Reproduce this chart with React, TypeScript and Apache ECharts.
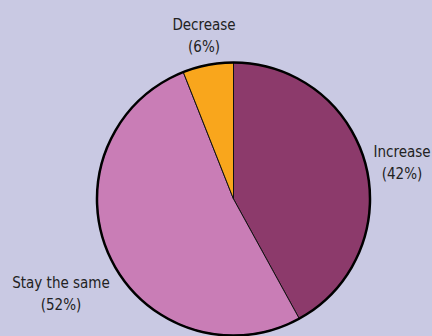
import React, { useEffect, useRef } from "react";
import * as echarts from "echarts";

// Share of respondents expecting each outcome (percent)
const categories = ["Increase", "Stay the same", "Decrease"];
const shares = [42, 52, 6];
const sliceColors = ["#8c3a6b", "#c97db6", "#f9a61c"];

// Label anchor points (px) for each slice, in the same order as categories
const labelAnchors: [number, number][] = [
  [402, 163],
  [61, 294],
  [204, 36],
];

const FONT = '"DejaVu Sans Condensed", "Liberation Sans Narrow", "Noto Sans", sans-serif';

export default function App() {
  const ref = useRef<HTMLDivElement>(null);

  useEffect(() => {
    document.body.style.margin = "0";
    if (!ref.current) return;
    const chart = echarts.init(ref.current, undefined, { renderer: "svg" });
    const center = [233.5, 199];
    const radius = 136.5;

    chart.setOption({
      animation: false,
      backgroundColor: "#c9c9e3",
      graphic: categories.map((name, i) => ({
        type: "text",
        x: labelAnchors[i][0],
        y: labelAnchors[i][1],
        silent: true,
        style: {
          text: `${name}\n(${shares[i]}%)`,
          fontFamily: FONT,
          fontSize: 15,
          lineHeight: 22,
          fill: "#222",
          align: "center",
          verticalAlign: "middle",
        },
      })),
      series: [
        {
          type: "pie",
          center,
          radius,
          startAngle: 90,
          clockwise: true,
          silent: true,
          data: categories.map((name, i) => ({
            name,
            value: shares[i],
            itemStyle: { color: sliceColors[i] },
          })),
          itemStyle: { borderColor: "#111", borderWidth: 1 },
          label: { show: false },
          labelLine: { show: false },
        },
        {
          // outer rim of the pie
          type: "pie",
          center,
          radius,
          silent: true,
          label: { show: false },
          labelLine: { show: false },
          data: [{ value: 1, itemStyle: { color: "rgba(0,0,0,0)", borderColor: "#000", borderWidth: 2.5 } }],
        },
      ],
    });

    return () => chart.dispose();
  }, []);

  return <div ref={ref} style={{ width: 432, height: 336 }} />;
}
